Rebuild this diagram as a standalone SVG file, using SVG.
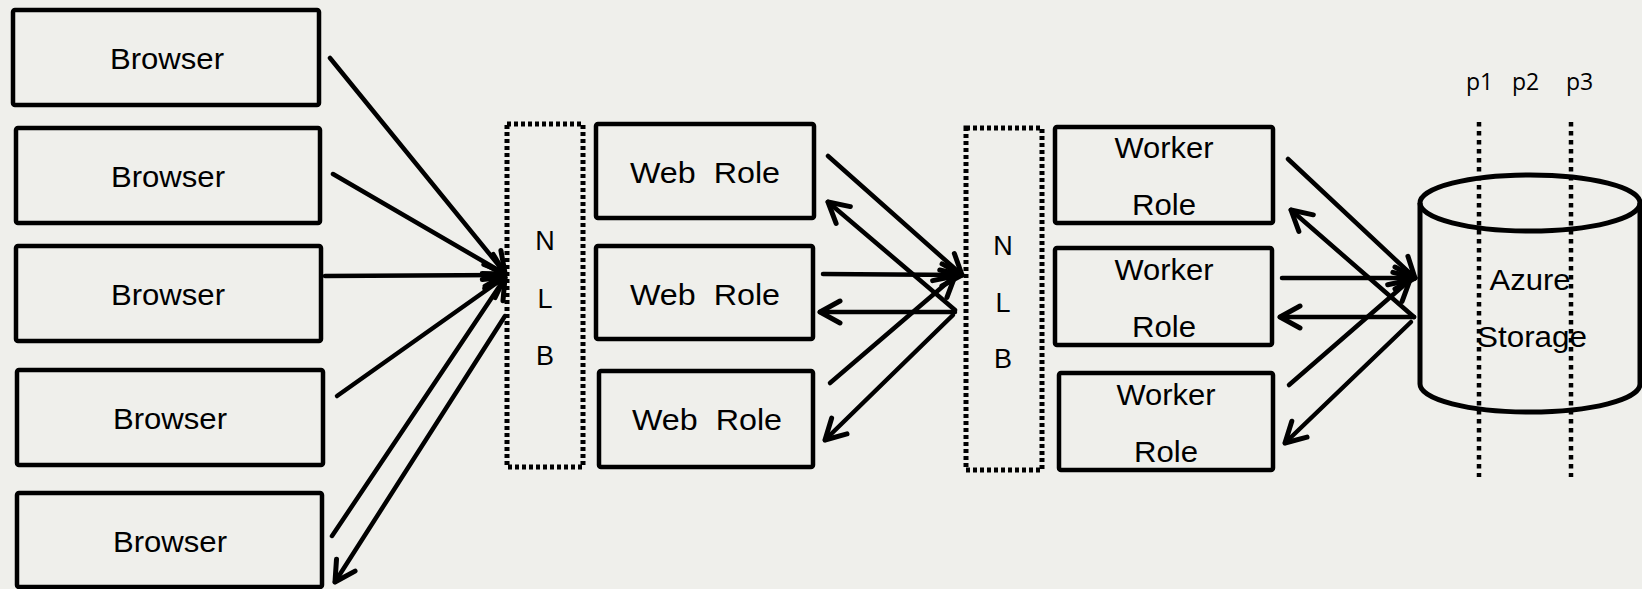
<svg xmlns="http://www.w3.org/2000/svg" width="1642" height="589" viewBox="0 0 1642 589">
<defs>
<style>
.box{fill:none;stroke:#000;stroke-width:4.5;}
.nlb{fill:none;stroke:#000;stroke-width:5;stroke-dasharray:4 3;}
.vline{fill:none;stroke:#000;stroke-width:4.5;stroke-dasharray:4.5 4.5;}
.lbl{font-family:"Liberation Sans",Arial,sans-serif;font-size:29px;fill:#000;text-anchor:middle;}
.nl{font-family:"Liberation Sans",Arial,sans-serif;font-size:27px;fill:#000;text-anchor:middle;}
.p{font-family:"Open Sans","Noto Sans",sans-serif;font-size:23px;fill:#000;}
.c{fill:none;stroke:#000;stroke-width:4.5;stroke-linecap:round;marker-end:url(#ah);}
.cyl{fill:none;stroke:#000;stroke-width:5;}
</style>
<marker id="ah" markerUnits="userSpaceOnUse" viewBox="-26 -16 30 32" markerWidth="30" markerHeight="32" refX="0" refY="0" orient="auto" overflow="visible">
<path d="M-20,-11 L0,0 L-20,11" fill="none" stroke="#000" stroke-width="5" stroke-linecap="round" stroke-linejoin="round"/>
</marker>
</defs>
<rect x="0" y="0" width="1642" height="589" fill="#efefeb"/>

<g id="browser1"><rect class="box" x="13" y="10" width="306" height="95" rx="2"/><text class="lbl" x="167" y="69" textLength="114" lengthAdjust="spacingAndGlyphs">Browser</text></g>
<g id="browser2"><rect class="box" x="16" y="128" width="304" height="95" rx="2"/><text class="lbl" x="168" y="187" textLength="114" lengthAdjust="spacingAndGlyphs">Browser</text></g>
<g id="browser3"><rect class="box" x="16" y="246" width="305" height="95" rx="2"/><text class="lbl" x="168" y="305" textLength="114" lengthAdjust="spacingAndGlyphs">Browser</text></g>
<g id="browser4"><rect class="box" x="17" y="370" width="306" height="95" rx="2"/><text class="lbl" x="170" y="429" textLength="114" lengthAdjust="spacingAndGlyphs">Browser</text></g>
<g id="browser5"><rect class="box" x="17" y="493" width="305" height="94" rx="2"/><text class="lbl" x="170" y="552" textLength="114" lengthAdjust="spacingAndGlyphs">Browser</text></g>

<g id="nlb1"><rect class="nlb" x="507" y="124" width="76" height="343"/><text class="nl" x="545" y="250">N</text><text class="nl" x="545" y="308">L</text><text class="nl" x="545" y="365">B</text></g>

<g id="web1"><rect class="box" x="596" y="124" width="218" height="94" rx="2"/><text class="lbl" x="705" y="183" xml:space="preserve" textLength="150" lengthAdjust="spacingAndGlyphs">Web  Role</text></g>
<g id="web2"><rect class="box" x="596" y="246" width="217" height="93" rx="2"/><text class="lbl" x="705" y="305" xml:space="preserve" textLength="150" lengthAdjust="spacingAndGlyphs">Web  Role</text></g>
<g id="web3"><rect class="box" x="599" y="371" width="214" height="96" rx="2"/><text class="lbl" x="707" y="430" xml:space="preserve" textLength="150" lengthAdjust="spacingAndGlyphs">Web  Role</text></g>

<g id="nlb2"><rect class="nlb" x="966" y="128" width="76" height="342"/><text class="nl" x="1003" y="255">N</text><text class="nl" x="1003" y="312">L</text><text class="nl" x="1003" y="368">B</text></g>

<g id="worker1"><rect class="box" x="1055" y="127" width="218" height="96" rx="2"/><text class="lbl" x="1164" y="158" textLength="99" lengthAdjust="spacingAndGlyphs">Worker</text><text class="lbl" x="1164" y="215" textLength="64" lengthAdjust="spacingAndGlyphs">Role</text></g>
<g id="worker2"><rect class="box" x="1055" y="248" width="217" height="97" rx="2"/><text class="lbl" x="1164" y="280" textLength="99" lengthAdjust="spacingAndGlyphs">Worker</text><text class="lbl" x="1164" y="337" textLength="64" lengthAdjust="spacingAndGlyphs">Role</text></g>
<g id="worker3"><rect class="box" x="1059" y="373" width="214" height="97" rx="2"/><text class="lbl" x="1166" y="405" textLength="99" lengthAdjust="spacingAndGlyphs">Worker</text><text class="lbl" x="1166" y="462" textLength="64" lengthAdjust="spacingAndGlyphs">Role</text></g>

<g id="storage">
<path class="cyl" d="M1420,203 L1420,384 A110,28 0 0 0 1640,384 L1640,203"/>
<ellipse class="cyl" cx="1530" cy="203" rx="110" ry="28"/>
<text class="lbl" x="1530" y="290" textLength="81" lengthAdjust="spacingAndGlyphs">Azure</text>
<text class="lbl" x="1532" y="347" textLength="110" lengthAdjust="spacingAndGlyphs">Storage</text>
</g>

<g id="partitions">
<line class="vline" x1="1479" y1="122" x2="1479" y2="477"/>
<line class="vline" x1="1571" y1="122" x2="1571" y2="477"/>
<text class="p" x="1466" y="90">p1</text>
<text class="p" x="1512" y="90">p2</text>
<text class="p" x="1566" y="90">p3</text>
</g>

<g id="connectors">
<line class="c" x1="330" y1="58" x2="505" y2="273"/>
<line class="c" x1="333" y1="174" x2="505" y2="274"/>
<line class="c" x1="325" y1="276" x2="505" y2="275"/>
<line class="c" x1="337" y1="396" x2="505" y2="277"/>
<line class="c" x1="332" y1="536" x2="505" y2="278"/>
<line class="c" x1="505" y1="316" x2="335" y2="582"/>

<line class="c" x1="828" y1="156" x2="962" y2="275"/>
<line class="c" x1="823" y1="274" x2="962" y2="275"/>
<line class="c" x1="830" y1="383" x2="955" y2="276"/>
<line class="c" x1="955" y1="310" x2="828" y2="202"/>
<line class="c" x1="955" y1="312" x2="820" y2="312"/>
<line class="c" x1="953" y1="315" x2="825" y2="440"/>

<line class="c" x1="1288" y1="159" x2="1415" y2="278"/>
<line class="c" x1="1282" y1="278" x2="1415" y2="278"/>
<line class="c" x1="1289" y1="385" x2="1410" y2="280"/>
<line class="c" x1="1414" y1="317" x2="1291" y2="210"/>
<line class="c" x1="1414" y1="317" x2="1280" y2="317"/>
<line class="c" x1="1411" y1="322" x2="1285" y2="443"/>
</g>
</svg>
